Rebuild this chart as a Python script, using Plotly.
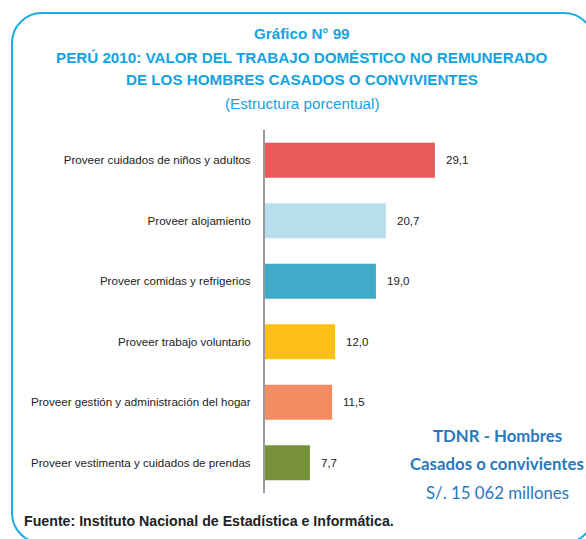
import plotly.graph_objects as go

# Categories and their share (%) of the unpaid domestic work value
categorias = [
    "Proveer cuidados de niños y adultos",
    "Proveer alojamiento",
    "Proveer comidas y refrigerios",
    "Proveer trabajo voluntario",
    "Proveer gestión y administración del hogar",
    "Proveer vestimenta y cuidados de prendas",
]
valores = [29.1, 20.7, 19.0, 12.0, 11.5, 7.7]
colores = ["#EA5A5C", "#B6DEEC", "#40ABC8", "#FBBF16", "#F48C62", "#78923A"]

titulo = [
    "Gráfico N° 99",
    "PERÚ 2010: VALOR DEL TRABAJO DOMÉSTICO NO REMUNERADO",
    "DE LOS HOMBRES CASADOS O CONVIVIENTES",
]
subtitulo = "(Estructura porcentual)"
recuadro = ["<b>TDNR - Hombres</b>", "<b>Casados o convivientes</b>", "S/. 15 062 millones"]
fuente = "<b>Fuente: Instituto Nacional de Estadística e Informática.</b>"

W, H = 586, 539
ML, MR, MT, MB = 265, 29, 130, 46
PW, PH = W - ML - MR, H - MT - MB

SANS = "Liberation Sans, Arial, sans-serif"
AZUL = "#12A3E3"


def px(x):
    return (x - ML) / PW


def py(y):
    return (H - MB - y) / PH


fig = go.Figure(
    go.Bar(
        x=valores,
        y=categorias,
        orientation="h",
        marker=dict(color=colores, line=dict(width=0)),
        hoverinfo="skip",
    )
)

# value labels next to each bar
for cat, v in zip(categorias, valores):
    fig.add_annotation(
        x=v, y=cat, xref="x", yref="y",
        text=f"{v:.1f}".replace(".", ","),
        showarrow=False, xanchor="left", xshift=9,
        font=dict(family=SANS, size=11.5, color="#222222"),
    )

# heading lines
for texto, yc in zip(titulo, [33, 57, 80]):
    fig.add_annotation(
        x=px(302), y=py(yc), xref="paper", yref="paper",
        text=f"<b>{texto}</b>", showarrow=False,
        xanchor="center", yanchor="middle",
        font=dict(family=SANS, size=15.2, color=AZUL),
    )
fig.add_annotation(
    x=px(302), y=py(104), xref="paper", yref="paper",
    text=subtitulo, showarrow=False, xanchor="center", yanchor="middle",
    font=dict(family=SANS, size=15.2, color=AZUL),
)

# total value box text
for texto, yc in zip(recuadro, [435, 463, 492]):
    fig.add_annotation(
        x=px(497), y=py(yc), xref="paper", yref="paper",
        text=texto, showarrow=False, xanchor="center", yanchor="middle",
        font=dict(family="Lato, Open Sans, sans-serif", size=16.8, color="#2878BE"),
    )

# source note
fig.add_annotation(
    x=px(22), y=py(521), xref="paper", yref="paper",
    text=fuente, showarrow=False, xanchor="left", yanchor="middle",
    font=dict(family=SANS, size=14.2, color="#222222"),
)

# rounded frame around the chart
x0, y0, x1, y1, r = 12, 13, 594, 543, 30
k = 0.5523 * r


def P(x, y):
    return f"{px(x):.5f},{py(y):.5f}"


ruta = (
    f"M {P(x0, y0 + r)} "
    f"C {P(x0, y0 + r - k)} {P(x0 + r - k, y0)} {P(x0 + r, y0)} "
    f"L {P(x1 - r, y0)} "
    f"C {P(x1 - r + k, y0)} {P(x1, y0 + r - k)} {P(x1, y0 + r)} "
    f"L {P(x1, y1 - r)} "
    f"C {P(x1, y1 - r + k)} {P(x1 - r + k, y1)} {P(x1 - r, y1)} "
    f"L {P(x0 + r, y1)} "
    f"C {P(x0 + r - k, y1)} {P(x0, y1 - r + k)} {P(x0, y1 - r)} Z"
)
fig.add_shape(
    type="path", path=ruta, xref="paper", yref="paper",
    line=dict(color="#1AAAE8", width=2), fillcolor="rgba(0,0,0,0)", layer="above",
)

fig.update_layout(
    width=W, height=H,
    margin=dict(l=ML, r=MR, t=MT, b=MB, autoexpand=False),
    paper_bgcolor="white", plot_bgcolor="white",
    bargap=0.42, showlegend=False,
    xaxis=dict(range=[0, 50], visible=False, fixedrange=True),
    yaxis=dict(
        autorange="reversed", showline=True, linecolor="#9A9A9A", linewidth=2,
        ticks="", showgrid=False, zeroline=False, ticklabelstandoff=10,
        tickfont=dict(family=SANS, size=11.6, color="#222222"),
        fixedrange=True,
    ),
)

fig.write_html("out.html")
